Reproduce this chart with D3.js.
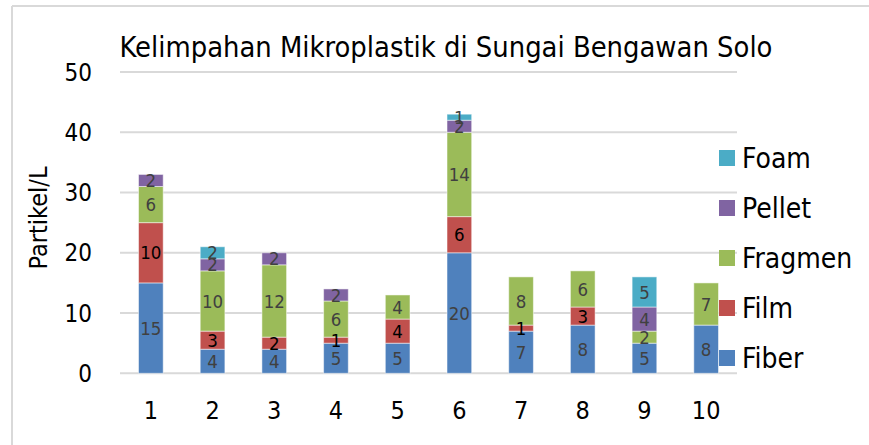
<!DOCTYPE html>
<html>
<head>
<meta charset="utf-8">
<script src="https://cdn.jsdelivr.net/npm/d3@7"></script>
<style>
  body { margin: 0; background: #fff; }
  svg text { font-family: "DejaVu Sans", sans-serif; font-stretch: condensed; }
</style>
</head>
<body>
<svg id="chart" width="869" height="445"></svg>
<script>
var sites = ["1", "2", "3", "4", "5", "6", "7", "8", "9", "10"];
var seriesNames = ["Fiber", "Film", "Fragmen", "Pellet", "Foam"];
var fiber   = [15, 4, 4, 5, 5, 20, 7, 8, 5, 8];
var film    = [10, 3, 2, 1, 4, 6, 1, 3, 0, 0];
var fragmen = [6, 10, 12, 6, 4, 14, 8, 6, 2, 7];
var pellet  = [2, 2, 2, 2, 0, 2, 0, 0, 4, 0];
var foam    = [0, 2, 0, 0, 0, 1, 0, 0, 5, 0];
var yTicks  = [0, 10, 20, 30, 40, 50];

var colors = {Fiber: "#4f81bd", Film: "#c0504d", Fragmen: "#9bbb59", Pellet: "#8064a2", Foam: "#4bacc6"};
var labelColors = {Fiber: "#404040", Film: "#000", Fragmen: "#404040", Pellet: "#404040", Foam: "#404040"};

var rows = sites.map((s, i) => ({site: s, Fiber: fiber[i], Film: film[i], Fragmen: fragmen[i], Pellet: pellet[i], Foam: foam[i]}));
var stacked = d3.stack().keys(seriesNames)(rows);

var svg = d3.select('#chart');

// chart frame (only top and left edge visible)
svg.append('line').attr('x1', 12).attr('x2', 869).attr('y1', 6).attr('y2', 6)
    .attr('stroke', '#d9d9d9').attr('stroke-width', 2);
svg.append('line').attr('x1', 12).attr('x2', 12).attr('y1', 6).attr('y2', 445)
    .attr('stroke', '#d9d9d9').attr('stroke-width', 2);

var x = d3.scaleBand().domain(sites).range([120, 737]).paddingInner(0.6).paddingOuter(0.3);
var y = d3.scaleLinear().domain([0, 50]).range([373.3, 72]);

// gridlines
svg.append('g').selectAll('line')
    .data(yTicks)
    .enter()
    .append('line')
    .attr('x1', 120).attr('x2', 737)
    .attr('y1', d => y(d)).attr('y2', d => y(d))
    .attr('stroke', '#d9d9d9').attr('stroke-width', 2);

// y tick labels
svg.append('g').selectAll('text')
    .data(yTicks)
    .enter()
    .append('text')
    .attr('x', 92).attr('y', d => y(d))
    .attr('dy', '0.36em')
    .attr('text-anchor', 'end')
    .attr('font-size', 24)
    .text(d => d);

// x tick labels
svg.append('g').selectAll('text')
    .data(sites)
    .enter()
    .append('text')
    .attr('x', d => x(d) + x.bandwidth() / 2).attr('y', 419)
    .attr('text-anchor', 'middle')
    .attr('font-size', 25)
    .text(d => d);

// bars
let layers = svg.append('g').selectAll('g')
    .data(stacked)
    .enter()
    .append('g')
    .attr('fill', d => colors[d.key]);

layers.selectAll('rect')
    .data(d => d.filter(p => p[1] > p[0]))
    .enter()
    .append('rect')
    .attr('x', d => x(d.data.site))
    .attr('y', d => y(d[1]))
    .attr('width', x.bandwidth())
    .attr('height', d => y(d[0]) - y(d[1]))
    .attr('stroke', 'rgba(255,255,255,0.5)')
    .attr('stroke-width', 1);

// data labels
let labelLayers = svg.append('g').selectAll('g')
    .data(stacked)
    .enter()
    .append('g')
    .attr('fill', d => labelColors[d.key]);

labelLayers.selectAll('text')
    .data(d => d.filter(p => p[1] > p[0]))
    .enter()
    .append('text')
    .attr('x', d => x(d.data.site) + x.bandwidth() / 2)
    .attr('y', d => (y(d[0]) + y(d[1])) / 2)
    .attr('dy', '0.36em')
    .attr('text-anchor', 'middle')
    .attr('font-size', 18.5)
    .text(d => d[1] - d[0]);

// title
svg.append('text')
    .attr('x', 446).attr('y', 57)
    .attr('text-anchor', 'middle')
    .attr('font-size', 28.8)
    .text('Kelimpahan Mikroplastik di Sungai Bengawan Solo');

// y axis title
svg.append('text')
    .attr('transform', 'translate(47,218) rotate(-90)')
    .attr('text-anchor', 'middle')
    .attr('font-size', 25)
    .text('Partikel/L');

// legend, top to bottom: Foam ... Fiber
var legendOrder = seriesNames.slice().reverse();
let legend = svg.append('g').selectAll('g')
    .data(legendOrder)
    .enter()
    .append('g')
    .attr('transform', (d, i) => `translate(719,${150 + i * 50})`);

legend.append('rect')
    .attr('width', 16).attr('height', 16)
    .attr('fill', d => colors[d]);

legend.append('text')
    .attr('x', 23).attr('y', 8)
    .attr('dy', '0.36em')
    .attr('font-size', 28)
    .text(d => d);
</script>
</body>
</html>
